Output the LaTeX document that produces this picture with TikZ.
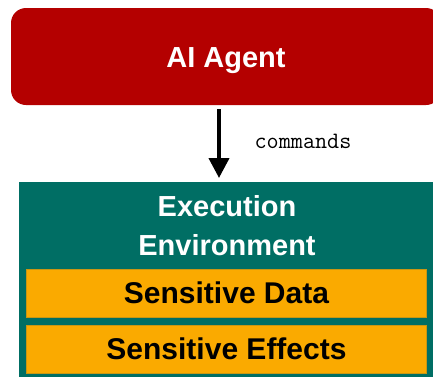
\documentclass[tikz,border=0pt]{standalone}
\usepackage{fontspec}
\setmainfont{Liberation Sans}
\usetikzlibrary{arrows.meta}
\definecolor{agentred}{RGB}{180,0,0}
\definecolor{envteal}{RGB}{0,110,100}
\definecolor{sensorange}{RGB}{250,170,0}
\definecolor{sensedge}{RGB}{200,150,20}
\tikzset{
  bigtext/.style={font=\fontsize{29}{39}\selectfont\bfseries},
  sensbox/.style={fill=sensorange, draw=sensedge, line width=0.6pt, minimum width=400pt, minimum height=48pt, inner sep=0pt, font=\fontsize{30}{39}\selectfont\bfseries, text=black, text height=21.5pt, text depth=0pt},
}
\begin{document}
\begin{tikzpicture}[x=1pt,y=-1pt]
\useasboundingbox (0,0) rectangle (433,376);
\clip (0,0) rectangle (433,376);
\node[fill=agentred, rounded corners=15pt, minimum width=430pt, minimum height=97pt, inner sep=0pt, text=white, bigtext, text height=21pt, text depth=0pt] (agent) at (226,56.5) {AI Agent};
\node[fill=envteal, minimum width=416pt, minimum height=200pt, inner sep=0pt, anchor=north west] (env) at (19,182) {};
\node[text=white, align=center, inner sep=0pt, font=\fontsize{29}{39}\selectfont\bfseries] (envlabel) at (227,226) {Execution\\Environment};
\node[sensbox] (data) at (226.5,293) {Sensitive Data};
\node[sensbox] (effects) at (226.5,349) {Sensitive Effects};
\draw[line width=4pt, -{Triangle[width=20pt,length=20pt]}, shorten <=4pt, shorten >=4pt] (agent.south -| 219,0) -- (env.north -| 219,0);
\node[font=\ttfamily\fontsize{23.5}{28}\selectfont, inner sep=0pt] (cmd) at (303,141) {commands};
\end{tikzpicture}
\end{document}
